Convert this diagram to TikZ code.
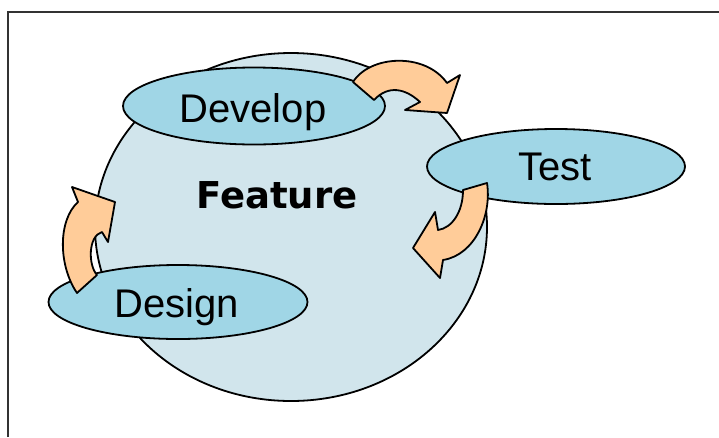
\documentclass[tikz,border=0pt]{standalone}
\usepackage{fontspec}
\setmainfont{Liberation Sans}
\newfontfamily\headfont{DejaVu Sans}
\usetikzlibrary{shapes.geometric}
\definecolor{framegray}{HTML}{333333}
\definecolor{sphere}{HTML}{D1E5EC}
\definecolor{phase}{HTML}{A0D6E6}
\definecolor{flow}{HTML}{FFCC99}
\begin{document}
\begin{tikzpicture}[x=1pt,y=-1pt,
  outline/.style={draw=black, line width=1.8pt},
  phasebox/.style={ellipse, outline, fill=phase, inner sep=0pt},
  phasetext/.style={anchor=base, inner sep=0pt, font=\fontsize{40}{48}\selectfont},
  flowarrow/.style={outline, fill=flow, line join=round}]
\useasboundingbox (0,0) rectangle (719,437);
% frame edges
\draw[framegray, line width=2.2pt] (8,437) -- (8,12) -- (719,12);

% central sphere
\node[ellipse, outline, fill=sphere, inner sep=0pt,
      minimum width=392pt, minimum height=348pt] (sphere) at (291,227) {};
\node[anchor=base, inner sep=0pt, font=\headfont\bfseries\fontsize{37}{44}\selectfont]
      (feature) at (277,208) {Feature};

% phases
\node[phasebox, minimum width=262pt, minimum height=77pt] (develop) at (254,106) {};
\node[phasebox, minimum width=258pt, minimum height=75pt] (test) at (556,166.5) {};
\node[phasebox, minimum width=259pt, minimum height=74pt] (design) at (178,302) {};
\node[phasetext] (developtext) at (253,122) {Develop};
\node[phasetext] (testtext) at (555,180) {Test};
\node[phasetext] (designtext) at (177,317) {Design};

% curved arrows between phases
\draw[flowarrow] (353,82) .. controls (370,55) and (425,52) .. (447,83)
  -- (460,75) -- (447,113) -- (405,110) -- (420,102)
  .. controls (405,88) and (388,85) .. (374,100) -- cycle;
\draw[flowarrow] (463,190) -- (487,183) .. controls (492,215) and (475,255) .. (443,260)
  -- (440,278) -- (413,248) -- (435,212) -- (438,230)
  .. controls (452,228) and (463,212) .. (463,190) -- cycle;
\draw[flowarrow] (77,293) .. controls (58,265) and (58,220) .. (78,202)
  -- (72,187) -- (115,202) -- (108,242) -- (102,232)
  .. controls (88,236) and (88,265) .. (97,275) -- cycle;
\end{tikzpicture}
\end{document}
